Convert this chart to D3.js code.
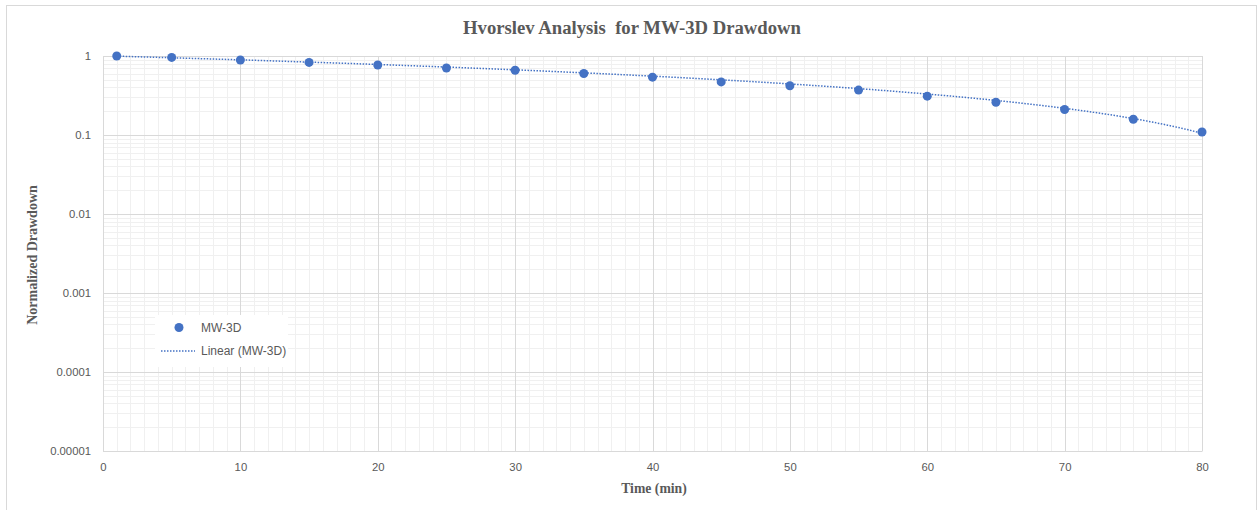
<!DOCTYPE html>
<html>
<head>
<meta charset="utf-8">
<script src="https://cdn.jsdelivr.net/npm/d3@7"></script>
<style>
  html, body { margin: 0; padding: 0; background: #fff; }
  svg { display: block; }
</style>
</head>
<body>
<div id="chart"></div>
<script>
// values
const times = [1, 5, 10, 15, 20, 25, 30, 35, 40, 45, 50, 55, 60, 65, 70, 75, 80]
const drawdown = [1.0, 0.96, 0.89, 0.83, 0.77, 0.705, 0.66, 0.60, 0.54, 0.47, 0.42, 0.37, 0.31, 0.26, 0.21, 0.158, 0.109]
// linear trendline ends as drawn (time, drawdown)
const trendStart = [1, 0.995]
const trendEnd = [80, 0.105]
const xTicks = [0, 10, 20, 30, 40, 50, 60, 70, 80]
const yTicks = [1, 0.1, 0.01, 0.001, 0.0001, 0.00001]
const yTickLabels = ['1', '0.1', '0.01', '0.001', '0.0001', '0.00001']
const seriesName = 'MW-3D'
const trendName = 'Linear (MW-3D)'

const W = 1259, H = 510
const margin = { top: 56, right: 57, bottom: 59, left: 103 }
const width = W - margin.left - margin.right
const height = H - margin.top - margin.bottom
const blue = '#4472c4'
const textGray = '#595959'

const svg = d3.select('#chart').append('svg')
  .attr('width', W)
  .attr('height', H)

// outer chart frame
svg.append('rect')
  .attr('x', 6.5).attr('y', 5.5)
  .attr('width', 1250).attr('height', 520)
  .attr('fill', '#fff')
  .attr('stroke', '#d9d9d9')

const g = svg.append('g')
  .attr('transform', `translate(${margin.left},${margin.top})`)

const x = d3.scaleLinear().domain([0, 80]).range([0, width])
const y = d3.scaleLog().domain([0.00001, 1]).range([height, 0])

// minor grid
const minorX = d3.range(0, 81).filter(d => d % 10 !== 0)
g.append('g').selectAll('line').data(minorX).join('line')
  .attr('x1', d => Math.round(x(d)) + 0.5).attr('x2', d => Math.round(x(d)) + 0.5)
  .attr('y1', 0).attr('y2', height)
  .attr('stroke', '#f0f0f0')
const minorY = []
yTicks.slice(1).forEach(dec => { for (let k = 2; k <= 9; k++) minorY.push(dec * k) })
g.append('g').selectAll('line').data(minorY).join('line')
  .attr('x1', 0).attr('x2', width)
  .attr('y1', d => Math.round(y(d)) + 0.5).attr('y2', d => Math.round(y(d)) + 0.5)
  .attr('stroke', '#f0f0f0')

// major grid
g.append('g').selectAll('line').data(xTicks).join('line')
  .attr('x1', d => Math.round(x(d)) + 0.5).attr('x2', d => Math.round(x(d)) + 0.5)
  .attr('y1', 0).attr('y2', height)
  .attr('stroke', '#d9d9d9')
g.append('g').selectAll('line').data(yTicks).join('line')
  .attr('x1', 0).attr('x2', width)
  .attr('y1', d => Math.round(y(d)) + 0.5).attr('y2', d => Math.round(y(d)) + 0.5)
  .attr('stroke', '#d9d9d9')

// axes (labels only, Excel style)
const xAxis = g.append('g')
  .attr('transform', `translate(0,${height})`)
  .call(d3.axisBottom(x).tickValues(xTicks).tickSize(0).tickPadding(12))
const yAxis = g.append('g')
  .call(d3.axisLeft(y).tickValues(yTicks).tickFormat((d, i) => yTickLabels[i]).tickSize(0).tickPadding(12))
;[xAxis, yAxis].forEach(a => {
  a.select('.domain').attr('stroke', '#d9d9d9')
  a.selectAll('text')
    .attr('fill', textGray)
    .style('font-family', '"Liberation Sans", Arial, sans-serif')
    .style('font-size', '11.3px')
})

// linear trendline (straight in value space, curved on the log axis)
const trendSlope = (trendEnd[1] - trendStart[1]) / (trendEnd[0] - trendStart[0])
const trendX = d3.range(trendStart[0], trendEnd[0] + 0.001, 0.5)
g.append('path')
  .datum(trendX)
  .attr('fill', 'none')
  .attr('stroke', blue)
  .attr('stroke-width', 1.5)
  .attr('stroke-dasharray', '1.5 1.5')
  .attr('d', d3.line().x(d => x(d)).y(d => y(trendStart[1] + trendSlope * (d - trendStart[0]))))

// points
g.append('g').selectAll('circle').data(times).join('circle')
  .attr('cx', d => x(d))
  .attr('cy', (d, i) => y(drawdown[i]))
  .attr('r', 4.5)
  .attr('fill', blue)

// title
svg.append('text')
  .attr('x', 632).attr('y', 34)
  .attr('text-anchor', 'middle')
  .attr('fill', textGray)
  .style('font-family', '"Liberation Serif", "Times New Roman", serif')
  .style('font-weight', 'bold')
  .style('font-size', '18.7px')
  .style('white-space', 'pre')
  .text('Hvorslev Analysis  for MW-3D Drawdown')

// axis titles
svg.append('text')
  .attr('x', 654).attr('y', 493)
  .attr('text-anchor', 'middle')
  .attr('fill', textGray)
  .style('font-family', '"Liberation Serif", "Times New Roman", serif')
  .style('font-weight', 'bold')
  .style('font-size', '13.7px')
  .text('Time (min)')
svg.append('text')
  .attr('transform', `translate(37,255) rotate(-90)`)
  .attr('text-anchor', 'middle')
  .attr('fill', textGray)
  .style('font-family', '"Liberation Serif", "Times New Roman", serif')
  .style('font-weight', 'bold')
  .style('font-size', '14px')
  .text('Normalized Drawdown')

// legend
const legend = svg.append('g').attr('transform', 'translate(155,315)')
legend.append('rect')
  .attr('width', 133).attr('height', 52)
  .attr('fill', '#fff')
legend.append('circle')
  .attr('cx', 24).attr('cy', 12.5).attr('r', 4.5)
  .attr('fill', blue)
legend.append('line')
  .attr('x1', 6).attr('x2', 40)
  .attr('y1', 36).attr('y2', 36)
  .attr('stroke', blue)
  .attr('stroke-width', 1.5)
  .attr('stroke-dasharray', '1.5 1.5')
legend.selectAll('text').data([seriesName, trendName]).join('text')
  .attr('x', 46)
  .attr('y', (d, i) => 12.5 + i * 23.5)
  .attr('dy', '0.35em')
  .attr('fill', textGray)
  .style('font-family', '"Liberation Sans", Arial, sans-serif')
  .style('font-size', '12px')
  .text(d => d)
</script>
</body>
</html>
